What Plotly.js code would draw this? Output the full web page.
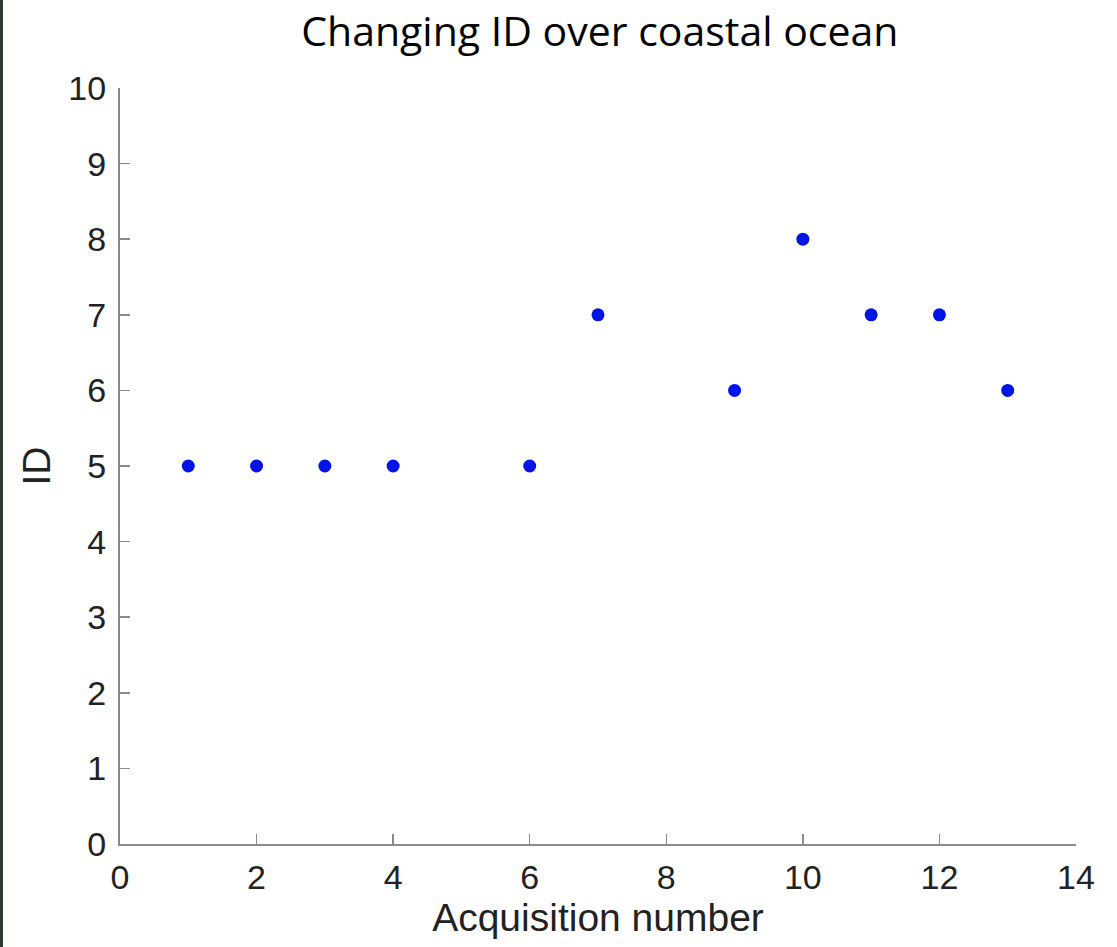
<!DOCTYPE html>
<html>
<head>
<meta charset="utf-8">
<script src="https://cdn.plot.ly/plotly-3.0.1.min.js"></script>
<style>html,body{margin:0;padding:0;background:#fff;}#chart{width:1117px;height:947px;}</style>
</head>
<body>
<div id="chart"></div>
<script>
const acquisition = [1, 2, 3, 4, 6, 7, 9, 10, 11, 12, 13];
const idValues = [5, 5, 5, 5, 5, 7, 6, 8, 7, 7, 6];
const xTicks = [0, 2, 4, 6, 8, 10, 12, 14];
const yTicks = [0, 1, 2, 3, 4, 5, 6, 7, 8, 9, 10];

const trace = {
  x: acquisition,
  y: idValues,
  type: 'scatter',
  mode: 'markers',
  marker: {color: 'rgb(0,20,230)', size: 13},
  hoverinfo: 'x+y'
};

const axisFont = {family: 'Liberation Sans, Arial, sans-serif', size: 34, color: '#222'};
const titleFont = {family: 'Liberation Sans, Arial, sans-serif', size: 39, color: '#222'};

const layout = {
  width: 1117, height: 947,
  margin: {l: 120, r: 41, t: 88, b: 103},
  paper_bgcolor: '#fff', plot_bgcolor: '#fff',
  showlegend: false,
  title: {
    text: 'Changing ID over coastal ocean',
    font: {family: 'Open Sans, Noto Sans, sans-serif', size: 41, color: '#000'},
    x: 0.537, xanchor: 'center', y: 0.967, yanchor: 'middle'
  },
  xaxis: {
    range: [0, 14], tickvals: xTicks, ticktext: xTicks.map(String),
    showgrid: false, zeroline: false, showline: true, linecolor: '#8a8a8a', linewidth: 2,
    ticks: 'inside', ticklen: 10, tickwidth: 1.5, tickcolor: '#8a8a8a',
    tickfont: axisFont, ticklabelstandoff: 2,
    title: {text: 'Acquisition number', font: titleFont, standoff: 9}
  },
  yaxis: {
    range: [0, 10], tickvals: yTicks, ticktext: yTicks.map(String),
    showgrid: false, zeroline: false, showline: true, linecolor: '#8a8a8a', linewidth: 2,
    ticks: 'inside', ticklen: 10, tickwidth: 1.5, tickcolor: '#8a8a8a',
    tickfont: axisFont, ticklabelstandoff: 5,
    title: {text: 'ID', font: titleFont, standoff: 6}
  },
  shapes: [{
    type: 'rect', xref: 'paper', yref: 'paper',
    x0: -120/956, x1: -117/956, y0: -103/756, y1: 88/756 + 1,
    fillcolor: '#2b3a2e', line: {width: 0}
  }]
};

Plotly.newPlot('chart', [trace], layout, {displayModeBar: false, staticPlot: true});
</script>
</body>
</html>
